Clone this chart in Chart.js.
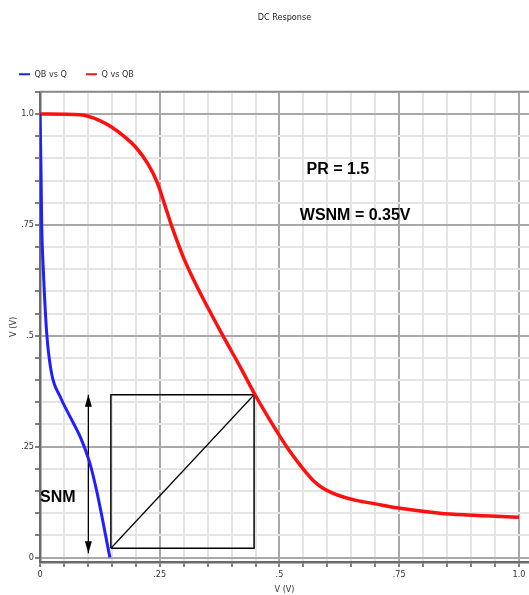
<!DOCTYPE html>
<html>
<head>
<meta charset="utf-8">
<title>DC Response</title>
<script src="https://cdn.jsdelivr.net/npm/chart.js@4.4.0/dist/chart.umd.min.js"></script>
<style>
  html, body { margin: 0; padding: 0; background: #ffffff; overflow: hidden; }
  #wrap { width: 529px; height: 595px; }
</style>
</head>
<body>
<div id="wrap"><canvas id="dcChart" width="529" height="595"></canvas></div>
<script>
// QB vs Q (blue) - x is Q sweep, y is QB
const qbX = [0, 0.002, 0.0035, 0.007, 0.014, 0.024, 0.042, 0.063, 0.084, 0.104, 0.118, 0.146];
const qbY = [1.0, 0.881, 0.754, 0.648, 0.506, 0.416, 0.363, 0.317, 0.272, 0.213, 0.152, 0.0];

// Q vs QB (red)
const qX = [0, 0.084, 0.125, 0.15, 0.175, 0.20, 0.225, 0.245, 0.262, 0.278, 0.299, 0.32,
            0.341, 0.383, 0.418, 0.449, 0.480, 0.515, 0.54, 0.557, 0.572, 0.59, 0.61,
            0.635, 0.66, 0.70, 0.752, 0.835, 0.891, 1.0];
const qY = [1.0, 0.998, 0.985, 0.970, 0.950, 0.925, 0.888, 0.845, 0.790, 0.738, 0.678, 0.628,
            0.583, 0.498, 0.430, 0.367, 0.310, 0.250, 0.213, 0.190, 0.172, 0.157, 0.146,
            0.136, 0.129, 0.121, 0.111, 0.100, 0.096, 0.091];

// noise margin square and the SNM arrow
const boxX = [0.148, 0.447, 0.447, 0.148, 0.148];
const boxY = [0.021, 0.021, 0.367, 0.367, 0.021];
const diagX = [0.148, 0.447];
const diagY = [0.021, 0.367];
const arrowX = [0.101, 0.101];
const arrowY = [0.367, 0.010];

const tickLabels = { 0: '0', 0.25: '.25', 0.5: '.5', 0.75: '.75', 1: '1.0' };

function pts(xs, ys) {
    return xs.map((x, i) => ({ x: x, y: ys[i] }));
}

function isMajor(v) {
    return Math.abs(v * 4 - Math.round(v * 4)) < 1e-6;
}

function stepTicks(max) {
    const t = [];
    for (let i = 0; i * 0.05 <= max + 1e-9; i++) t.push({ value: Math.round(i * 5) / 100 });
    return t;
}

const smallFont = { family: "'Liberation Sans Narrow', 'DejaVu Sans Condensed', 'Liberation Sans', sans-serif", size: 9 };

const gridColor = ctx => {
    if (!ctx.tick) return '#e4e4e4';
    return isMajor(ctx.tick.value) ? '#a8a8a8' : '#e4e4e4';
};

// keep the legend band a fixed height so the plot top stays put
const legendHeight = {
    id: 'legendHeight',
    beforeInit(chart) {
        const fit = chart.legend.fit;
        chart.legend.fit = function () {
            fit.call(this);
            this.height = 41;
        };
    }
};

const extras = {
    id: 'extras',
    afterDraw(chart) {
        const c = chart.ctx;
        const xs = chart.scales.x;
        const ys = chart.scales.y;
        const area = chart.chartArea;

        // top frame line
        c.save();
        c.strokeStyle = '#8a8a8a';
        c.lineWidth = 2;
        c.beginPath();
        c.moveTo(area.left, area.top);
        c.lineTo(area.right, area.top);
        c.stroke();

        // arrow heads
        const ax = xs.getPixelForValue(arrowX[0]);
        const top = ys.getPixelForValue(arrowY[0]);
        const bot = ys.getPixelForValue(arrowY[1]);
        c.fillStyle = '#000';
        c.beginPath();
        c.moveTo(ax, top);
        c.lineTo(ax - 3.5, top + 12);
        c.lineTo(ax + 3.5, top + 12);
        c.closePath();
        c.fill();
        c.beginPath();
        c.moveTo(ax, bot);
        c.lineTo(ax - 3.5, bot - 12);
        c.lineTo(ax + 3.5, bot - 12);
        c.closePath();
        c.fill();

        // annotations
        c.fillStyle = '#000';
        c.font = "bold 16px 'Liberation Sans', 'DejaVu Sans', sans-serif";
        c.textBaseline = 'middle';
        c.textAlign = 'center';
        c.fillText('PR = 1.5', xs.getPixelForValue(0.622), ys.getPixelForValue(0.874));
        c.fillText('WSNM = 0.35V', xs.getPixelForValue(0.658), ys.getPixelForValue(0.770));
        c.textAlign = 'left';
        c.fillText('SNM', xs.getPixelForValue(0), ys.getPixelForValue(0.136));
        c.restore();
    }
};

new Chart(document.getElementById('dcChart'), {
    type: 'scatter',
    data: {
        datasets: [
            {
                label: 'QB vs Q',
                data: pts(qbX, qbY),
                showLine: true,
                borderColor: '#1f1fff',
                backgroundColor: '#1f1fff',
                borderWidth: 3,
                pointRadius: 0,
                cubicInterpolationMode: 'monotone'
            },
            {
                label: 'Q vs QB',
                data: pts(qX, qY),
                showLine: true,
                borderColor: '#ff1010',
                backgroundColor: '#ff1010',
                borderWidth: 3.5,
                pointRadius: 0,
                cubicInterpolationMode: 'monotone'
            },
            {
                label: 'box',
                data: pts(boxX, boxY),
                showLine: true,
                borderColor: '#000',
                borderWidth: 1.5,
                pointRadius: 0
            },
            {
                label: 'diag',
                data: pts(diagX, diagY),
                showLine: true,
                borderColor: '#000',
                borderWidth: 1.2,
                pointRadius: 0
            },
            {
                label: 'arrow',
                data: pts(arrowX, arrowY),
                showLine: true,
                borderColor: '#000',
                borderWidth: 1.2,
                pointRadius: 0
            }
        ]
    },
    options: {
        responsive: false,
        animation: false,
        layout: { padding: { top: 0, left: 0, right: 0, bottom: 0 } },
        plugins: {
            title: {
                display: true,
                fullSize: false,
                text: 'DC Response',
                color: '#222',
                font: { family: smallFont.family, size: 9, weight: 'normal' },
                padding: { top: 12, bottom: 28 }
            },
            legend: {
                align: 'start',
                labels: {
                    color: '#333',
                    font: smallFont,
                    boxWidth: 11,
                    boxHeight: 2,
                    padding: 19,
                    generateLabels: chart => chart.data.datasets.slice(0, 2).map((d, i) => ({
                        text: d.label,
                        fillStyle: d.borderColor,
                        strokeStyle: d.borderColor,
                        lineWidth: 0,
                        datasetIndex: i,
                        fontColor: '#333'
                    }))
                }
            },
            tooltip: { enabled: false }
        },
        scales: {
            x: {
                type: 'linear',
                min: 0,
                max: 1.021,
                afterBuildTicks: s => { s.ticks = stepTicks(1.0); },
                afterFit: s => { s.height = 33; },
                ticks: {
                    autoSkip: false,
                    maxRotation: 0,
                    padding: 2,
                    color: '#333',
                    font: smallFont,
                    callback: v => (isMajor(v) ? tickLabels[Math.round(v * 4) / 4] : '')
                },
                grid: {
                    color: gridColor,
                    lineWidth: 2,
                    tickLength: 5,
                    tickColor: '#555',
                    tickWidth: 1.5
                },
                border: { color: '#6a6a6a', width: 2.5 },
                title: {
                    display: true,
                    text: 'V (V)',
                    color: '#333',
                    font: smallFont,
                    padding: { top: 1, bottom: 0 }
                }
            },
            y: {
                type: 'linear',
                min: -0.01,
                max: 1.05,
                afterBuildTicks: s => { s.ticks = stepTicks(1.05); },
                afterFit: s => { s.width = 40; },
                ticks: {
                    autoSkip: false,
                    padding: 1,
                    color: '#333',
                    font: smallFont,
                    callback: v => (isMajor(v) ? tickLabels[Math.round(v * 4) / 4] : '')
                },
                grid: {
                    color: gridColor,
                    lineWidth: 2,
                    tickLength: 5,
                    tickColor: '#555',
                    tickWidth: 1.5
                },
                border: { color: '#6a6a6a', width: 2.5 },
                title: {
                    display: true,
                    text: 'V (V)',
                    color: '#333',
                    font: smallFont,
                    padding: { top: 8, bottom: 0 }
                }
            }
        }
    },
    plugins: [legendHeight, extras]
});
</script>
</body>
</html>
